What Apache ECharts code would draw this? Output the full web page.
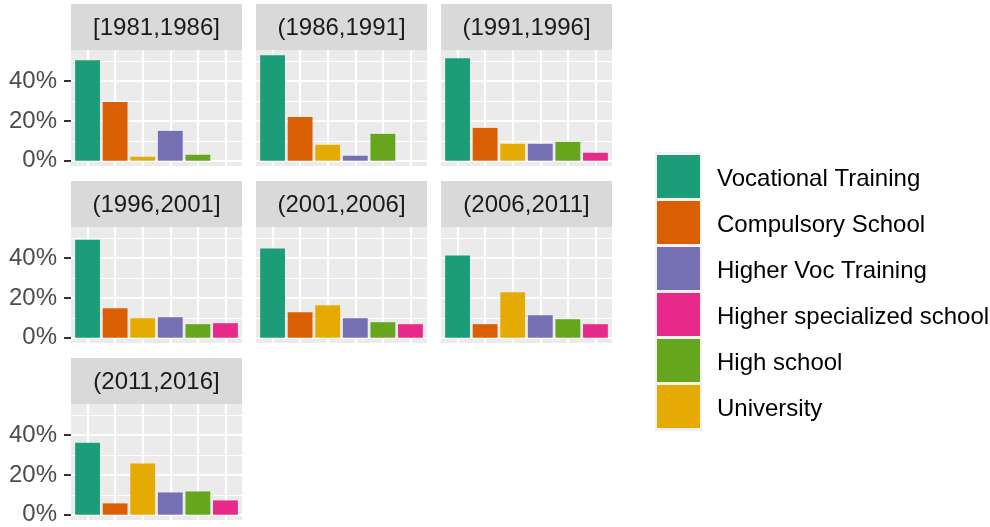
<!DOCTYPE html>
<html>
<head>
<meta charset="utf-8">
<script src="https://cdn.jsdelivr.net/npm/echarts@6/dist/echarts.min.js"></script>
<style>
  html, body { margin: 0; padding: 0; background: #fff; }
  #chart { width: 990px; height: 527px; }
</style>
</head>
<body>
<div id="chart"></div>
<script>
// facets (periods) and education levels
var periods = ['[1981,1986]', '(1986,1991]', '(1991,1996]', '(1996,2001]', '(2001,2006]', '(2006,2011]', '(2011,2016]'];

// share in % per period, one array per education level
var vocational  = [50.5, 53.0, 51.5, 49.3, 44.8, 41.3, 36.2];
var compulsory  = [29.5, 22.0, 16.5, 14.8, 12.8, 6.8, 5.7];
var university  = [2.0, 8.0, 8.5, 9.8, 16.3, 22.8, 25.7];
var higherVoc   = [15.0, 2.5, 8.5, 10.3, 9.8, 11.3, 11.2];
var highSchool  = [3.0, 13.5, 9.5, 6.8, 7.8, 9.3, 11.7];
var higherSpec  = [0, 0, 4.0, 7.3, 6.8, 6.8, 7.2];

var yTicks = [0, 20, 40];
var yMinor = [10, 30, 50];

// x order of the bars inside each panel
var levels = [
  {name: 'Vocational Training', data: vocational, color: '#1B9E77'},
  {name: 'Compulsory School', data: compulsory, color: '#D95F02'},
  {name: 'University', data: university, color: '#E6AB02'},
  {name: 'Higher Voc Training', data: higherVoc, color: '#7570B3'},
  {name: 'High school', data: highSchool, color: '#66A61E'},
  {name: 'Higher specialized school', data: higherSpec, color: '#E7298A'}
];
var legendOrder = ['Vocational Training', 'Compulsory School', 'Higher Voc Training',
                   'Higher specialized school', 'High school', 'University'];

var font = "'Liberation Sans', Arial, sans-serif";
var fs = 24;
var colLeft = [71, 256, 441];
var rowTop = [4, 181, 358];
var panelW = 171, stripH = 46, panelH = 116;

var ymax = 53, ypad = ymax * 0.05;
var xPos = [1, 2, 3, 4, 5, 6];
var barW = panelW / 6.2 * 0.9;

var chart = echarts.init(document.getElementById('chart'));

var grids = [], xAxes = [], yAxes = [], series = [], graphics = [];

periods.forEach(function (per, p) {
  var col = p % 3, row = Math.floor(p / 3);
  var left = colLeft[col], top = rowTop[row];
  grids.push({
    left: left, top: top + stripH, width: panelW, height: panelH,
    show: true, backgroundColor: '#EBEBEB', borderWidth: 0, containLabel: false
  });
  xAxes.push({
    type: 'value', gridIndex: p, min: 0.4, max: 6.6,
    axisLine: {show: false}, axisLabel: {show: false},
    axisTick: {show: false, customValues: xPos},
    splitLine: {show: true, lineStyle: {color: '#fff', width: 2.2}}
  });
  yAxes.push({
    type: 'value', gridIndex: p, min: -ypad, max: ymax + ypad,
    axisLine: {show: false},
    axisTick: {show: col === 0, length: 7, customValues: yTicks, lineStyle: {color: '#333', width: 2}},
    axisLabel: {show: col === 0, customValues: yTicks, margin: 14, color: '#4D4D4D',
      fontSize: fs, fontFamily: font, formatter: function (v) { return v + '%'; }},
    splitLine: {show: true, lineStyle: {color: '#fff', width: 2.2}}
  });
  yAxes.push({
    type: 'value', gridIndex: p, min: -ypad, max: ymax + ypad, position: 'left',
    axisLine: {show: false}, axisLabel: {show: false},
    axisTick: {show: false, customValues: yMinor},
    splitLine: {show: true, lineStyle: {color: '#fff', width: 1.1}}
  });
  levels.forEach(function (lv, i) {
    series.push({
      type: 'bar', name: lv.name, xAxisIndex: p, yAxisIndex: p * 2,
      stack: 'panel' + p, barWidth: barW,
      itemStyle: {color: lv.color},
      data: [[xPos[i], lv.data[p]]]
    });
  });
  graphics.push({
    type: 'rect', shape: {x: left, y: top, width: panelW, height: stripH},
    style: {fill: '#D9D9D9'}
  });
  graphics.push({
    type: 'text', x: left + panelW / 2, y: top + stripH / 2 + 1,
    style: {text: per, fill: '#1A1A1A', font: fs + 'px ' + font, textAlign: 'center', textVerticalAlign: 'middle'}
  });
});

// legend key background
graphics.push({
  type: 'rect', shape: {x: 655, y: 152, width: 47, height: 279},
  style: {fill: '#F2F2F2'}, z: -1
});

chart.setOption({
  animation: false,
  grid: grids,
  xAxis: xAxes,
  yAxis: yAxes,
  series: series,
  graphic: graphics,
  legend: {
    data: legendOrder, orient: 'vertical', left: 657, top: 155,
    itemWidth: 43, itemHeight: 43, itemGap: 3, padding: 0,
    icon: 'rect', selectedMode: false,
    formatter: function (name) { return '{t|' + name + '}'; },
    textStyle: {
      fontSize: fs, fontFamily: font, color: '#000',
      rich: {t: {fontSize: fs, fontFamily: font, color: '#000', padding: [6, 0, 0, 12]}}
    }
  }
});
</script>
</body>
</html>
